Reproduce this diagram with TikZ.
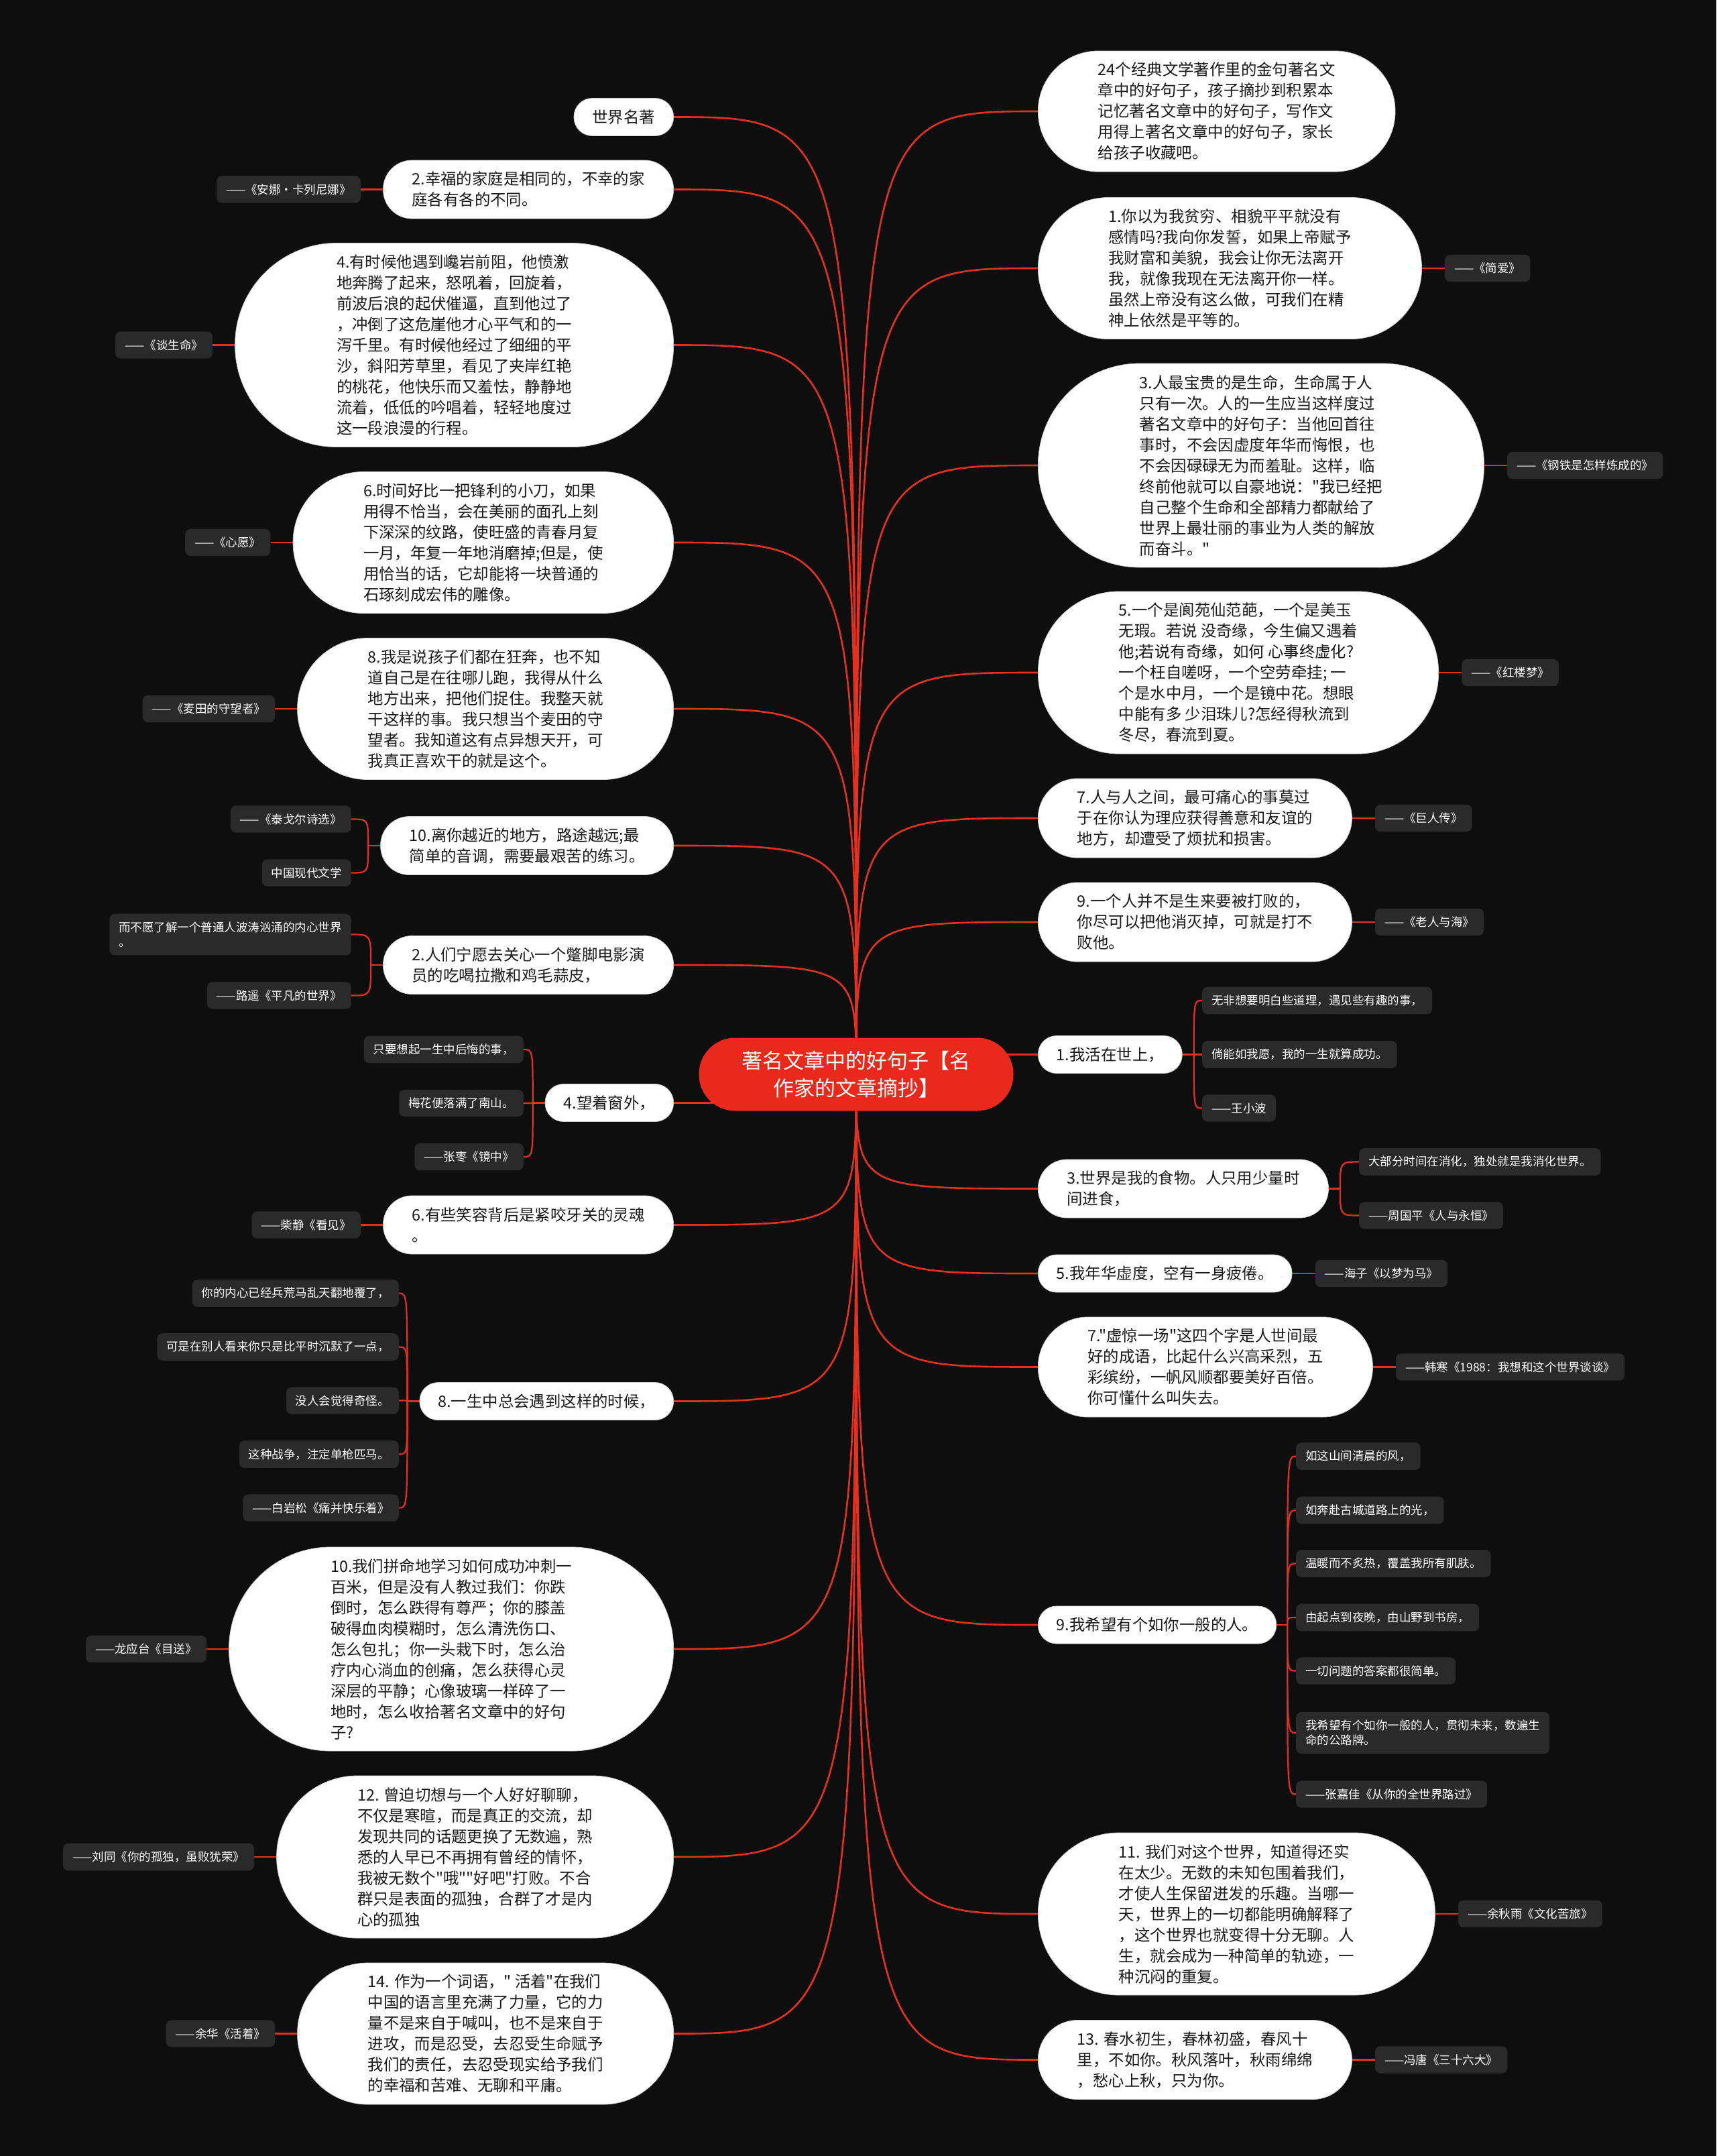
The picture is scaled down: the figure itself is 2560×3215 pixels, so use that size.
\documentclass[tikz,border=0pt]{standalone}
\usepackage{fontspec}
\setmainfont{Noto Sans CJK SC}[Ligatures=TeXOff]
\usetikzlibrary{positioning}
\definecolor{bgc}{HTML}{0E0E0E}
\definecolor{linered}{HTML}{E2321F}
\definecolor{rootred}{HTML}{E8291B}
\definecolor{leafgray}{HTML}{2A2A2A}
\definecolor{pilltext}{HTML}{1A1A1A}
\pgfdeclarelayer{bg}
\pgfdeclarelayer{lines}
\pgfsetlayers{bg,lines,main}
\begin{document}
\begin{tikzpicture}[x=1pt,y=-1pt,
  pill/.style={rectangle, rounded corners=#1pt, minimum height=2*#1pt+1pt,
    fill=white, draw=black!20, line width=0.8pt,
    inner xsep=#1pt, inner ysep=4pt, align=left, text=pilltext,
    font=\fontsize{23.4}{31}\selectfont},
  leaf/.style={rectangle, rounded corners=8pt, fill=leafgray, text=white,
    inner xsep=14pt, inner ysep=12pt, align=left,
    font=\fontsize{17.5}{22}\selectfont},
  root/.style={rectangle, rounded corners=54pt, minimum height=109pt,
    fill=rootred, text=white, inner xsep=64pt,
    inner ysep=4pt, align=center, font=\fontsize{31}{41}\selectfont},
  conn/.style={draw=linered, line width=2.6pt},
  sub/.style={draw=linered, line width=2.2pt}]
\useasboundingbox (0,0) rectangle (2560,3215);
\begin{pgfonlayer}{bg}
\fill[bgc] (0,0) rectangle (2560,3215);
\end{pgfonlayer}

% root
\node[root] (C) at (1277,1602) {著名文章中的好句子【名\\作家的文章摘抄】};

% ---------- left side ----------
\node[pill=27.5,anchor=east] (L0) at (1005,174.5) {世界名著};

\node[pill=43,anchor=east] (L1) at (1005,282.5) {2.幸福的家庭是相同的，不幸的家\\庭各有各的不同。};
\node[leaf,left=33pt of L1] (L1-a) {——《安娜·卡列尼娜》};

\node[pill=151.5,anchor=east] (L2) at (1005,514.5) {4.有时候他遇到巉岩前阻，他愤激\\地奔腾了起来，怒吼着，回旋着，\\前波后浪的起伏催逼，直到他过了\\，冲倒了这危崖他才心平气和的一\\泻千里。有时候他经过了细细的平\\沙，斜阳芳草里，看见了夹岸红艳\\的桃花，他快乐而又羞怯，静静地\\流着，低低的吟唱着，轻轻地度过\\这一段浪漫的行程。};
\node[leaf,left=33pt of L2] (L2-a) {——《谈生命》};

\node[pill=105,anchor=east] (L3) at (1005,809) {6.时间好比一把锋利的小刀，如果\\用得不恰当，会在美丽的面孔上刻\\下深深的纹路，使旺盛的青春月复\\一月，年复一年地消磨掉;但是，使\\用恰当的话，它却能将一块普通的\\石琢刻成宏伟的雕像。};
\node[leaf,left=33pt of L3] (L3-a) {——《心愿》};

\node[pill=105,anchor=east] (L4) at (1005,1057) {8.我是说孩子们都在狂奔，也不知\\道自己是在往哪儿跑，我得从什么\\地方出来，把他们捉住。我整天就\\干这样的事。我只想当个麦田的守\\望者。我知道这有点异想天开，可\\我真正喜欢干的就是这个。};
\node[leaf,left=33pt of L4] (L4-a) {——《麦田的守望者》};

\node[pill=43,anchor=east] (L5) at (1005,1261) {10.离你越近的地方，路途越远;最\\简单的音调，需要最艰苦的练习。};
\node[leaf,anchor=east] (L5-a) at (524,1221.5) {——《泰戈尔诗选》};
\node[leaf,anchor=east] (L5-b) at (524,1301.5) {中国现代文学};
\coordinate (L5j) at ([xshift=-18pt]L5.west);

\node[pill=43,anchor=east] (L6) at (1005,1439) {2.人们宁愿去关心一个蹩脚电影演\\员的吃喝拉撒和鸡毛蒜皮，};
\node[leaf,anchor=east] (L6-a) at (524,1393.5) {而不愿了解一个普通人波涛汹涌的内心世界\\。};
\node[leaf,anchor=east] (L6-b) at (524,1484.5) {——路遥《平凡的世界》};
\coordinate (L6j) at ([xshift=-18pt]L6.west);

\node[pill=27.5,anchor=east] (L7) at (1005,1644.5) {4.望着窗外，};
\node[leaf,anchor=east] (L7-a) at (781,1565) {只要想起一生中后悔的事，};
\node[leaf,anchor=east] (L7-b) at (781,1645) {梅花便落满了南山。};
\node[leaf,anchor=east] (L7-c) at (781,1725) {——张枣《镜中》};
\coordinate (L7j) at ([xshift=-18pt]L7.west);

\node[pill=43,anchor=east] (L8) at (1005,1826.5) {6.有些笑容背后是紧咬牙关的灵魂\\。};
\node[leaf,left=33pt of L8] (L8-a) {——柴静《看见》};

\node[pill=27.5,anchor=east] (L9) at (1005,2089.5) {8.一生中总会遇到这样的时候，};
\node[leaf,anchor=east] (L9-a) at (595,1928.5) {你的内心已经兵荒马乱天翻地覆了，};
\node[leaf,anchor=east] (L9-b) at (595,2008.5) {可是在别人看来你只是比平时沉默了一点，};
\node[leaf,anchor=east] (L9-c) at (595,2088.5) {没人会觉得奇怪。};
\node[leaf,anchor=east] (L9-d) at (595,2168.5) {这种战争，注定单枪匹马。};
\node[leaf,anchor=east] (L9-e) at (595,2248.5) {——白岩松《痛并快乐着》};
\coordinate (L9j) at ([xshift=-18pt]L9.west);

\node[pill=151.5,anchor=east] (L10) at (1005,2459) {10.我们拼命地学习如何成功冲刺一\\百米，但是没有人教过我们：你跌\\倒时，怎么跌得有尊严；你的膝盖\\破得血肉模糊时，怎么清洗伤口、\\怎么包扎；你一头栽下时，怎么治\\疗内心淌血的创痛，怎么获得心灵\\深层的平静；心像玻璃一样碎了一\\地时，怎么收拾著名文章中的好句\\子?};
\node[leaf,left=33pt of L10] (L10-a) {——龙应台《目送》};

\node[pill=120.5,anchor=east] (L11) at (1005,2769) {12. 曾迫切想与一个人好好聊聊，\\不仅是寒暄，而是真正的交流，却\\发现共同的话题更换了无数遍，熟\\悉的人早已不再拥有曾经的情怀，\\我被无数个"哦""好吧"打败。不合\\群只是表面的孤独，合群了才是内\\心的孤独};
\node[leaf,left=33pt of L11] (L11-a) {——刘同《你的孤独，虽败犹荣》};

\node[pill=105,anchor=east] (L12) at (1005,3032.5) {14. 作为一个词语，" 活着"在我们\\中国的语言里充满了力量，它的力\\量不是来自于喊叫，也不是来自于\\进攻，而是忍受，去忍受生命赋予\\我们的责任，去忍受现实给予我们\\的幸福和苦难、无聊和平庸。};
\node[leaf,left=33pt of L12] (L12-a) {——余华《活着》};

% ---------- right side ----------
\node[pill=89.5,anchor=west] (R0) at (1548,166) {24个经典文学著作里的金句著名文\\章中的好句子，孩子摘抄到积累本\\记忆著名文章中的好句子，写作文\\用得上著名文章中的好句子，家长\\给孩子收藏吧。};

\node[pill=105,anchor=west] (R1) at (1548,400) {1.你以为我贫穷、相貌平平就没有\\感情吗?我向你发誓，如果上帝赋予\\我财富和美貌，我会让你无法离开\\我，就像我现在无法离开你一样。\\虽然上帝没有这么做，可我们在精\\神上依然是平等的。};
\node[leaf,right=34pt of R1] (R1-a) {——《简爱》};

\node[pill=151.5,anchor=west] (R2) at (1548,694) {3.人最宝贵的是生命，生命属于人\\只有一次。人的一生应当这样度过\\著名文章中的好句子：当他回首往\\事时，不会因虚度年华而悔恨，也\\不会因碌碌无为而羞耻。这样，临\\终前他就可以自豪地说："我已经把\\自己整个生命和全部精力都献给了\\世界上最壮丽的事业为人类的解放\\而奋斗。"};
\node[leaf,right=34pt of R2] (R2-a) {——《钢铁是怎样炼成的》};

\node[pill=120.5,anchor=west] (R3) at (1548,1003) {5.一个是阆苑仙范葩，一个是美玉\\无瑕。若说 没奇缘，今生偏又遇着\\他;若说有奇缘，如何 心事终虚化?\\一个枉自嗟呀，一个空劳牵挂; 一\\个是水中月，一个是镜中花。想眼\\中能有多 少泪珠儿?怎经得秋流到\\冬尽，春流到夏。};
\node[leaf,right=34pt of R3] (R3-a) {——《红楼梦》};

\node[pill=58.5,anchor=west] (R4) at (1548,1220) {7.人与人之间，最可痛心的事莫过\\于在你认为理应获得善意和友谊的\\地方，却遭受了烦扰和损害。};
\node[leaf,right=34pt of R4] (R4-a) {——《巨人传》};

\node[pill=58.5,anchor=west] (R5) at (1548,1375) {9.一个人并不是生来要被打败的，\\你尽可以把他消灭掉，可就是打不\\败他。};
\node[leaf,right=34pt of R5] (R5-a) {——《老人与海》};

\node[pill=27.5,anchor=west] (R6) at (1548,1572.5) {1.我活在世上，};
\node[leaf,anchor=west] (R6-a) at (1793,1492) {无非想要明白些道理，遇见些有趣的事，};
\node[leaf,anchor=west] (R6-b) at (1793,1572.5) {倘能如我愿，我的一生就算成功。};
\node[leaf,anchor=west] (R6-c) at (1793,1652.5) {——王小波};
\coordinate (R6j) at ([xshift=17pt]R6.east);

\node[pill=43,anchor=west] (R7) at (1548,1772.5) {3.世界是我的食物。人只用少量时\\间进食，};
\node[leaf,anchor=west] (R7-a) at (2027,1732.5) {大部分时间在消化，独处就是我消化世界。};
\node[leaf,anchor=west] (R7-b) at (2027,1812.5) {——周国平《人与永恒》};
\coordinate (R7j) at ([xshift=17pt]R7.east);

\node[pill=27.5,anchor=west] (R8) at (1548,1899) {5.我年华虚度，空有一身疲倦。};
\node[leaf,right=34pt of R8] (R8-a) {——海子《以梦为马》};

\node[pill=74,anchor=west] (R9) at (1548,2038.5) {7."虚惊一场"这四个字是人世间最\\好的成语，比起什么兴高采烈，五\\彩缤纷，一帆风顺都要美好百倍。\\你可懂什么叫失去。};
\node[leaf,right=34pt of R9] (R9-a) {——韩寒《1988：我想和这个世界谈谈》};

\node[pill=27.5,anchor=west] (R10) at (1548,2423) {9.我希望有个如你一般的人。};
\node[leaf,anchor=west] (R10-a) at (1933,2171.5) {如这山间清晨的风，};
\node[leaf,anchor=west] (R10-b) at (1933,2252) {如奔赴古城道路上的光，};
\node[leaf,anchor=west] (R10-c) at (1933,2331.5) {温暖而不炙热，覆盖我所有肌肤。};
\node[leaf,anchor=west] (R10-d) at (1933,2412) {由起点到夜晚，由山野到书房，};
\node[leaf,anchor=west] (R10-e) at (1933,2491.5) {一切问题的答案都很简单。};
\node[leaf,anchor=west] (R10-f) at (1933,2584) {我希望有个如你一般的人，贯彻未来，数遍生\\命的公路牌。};
\node[leaf,anchor=west] (R10-g) at (1933,2675.5) {——张嘉佳《从你的全世界路过》};
\coordinate (R10j) at ([xshift=16pt]R10.east);

\node[pill=120.5,anchor=west] (R11) at (1548,2854) {11. 我们对这个世界，知道得还实\\在太少。无数的未知包围着我们，\\才使人生保留迸发的乐趣。当哪一\\天，世界上的一切都能明确解释了\\，这个世界也就变得十分无聊。人\\生，就会成为一种简单的轨迹，一\\种沉闷的重复。};
\node[leaf,right=34pt of R11] (R11-a) {——余秋雨《文化苦旅》};

\node[pill=58.5,anchor=west] (R12) at (1548,3071.5) {13. 春水初生，春林初盛，春风十\\里，不如你。秋风落叶，秋雨绵绵\\，愁心上秋，只为你。};
\node[leaf,right=34pt of R12] (R12-a) {——冯唐《三十六大》};

% ---------- connectors ----------
\begin{pgfonlayer}{lines}
\foreach \n in {L0,L1,L2,L3,L4,L5,L6,L7,L8,L9,L10,L11,L12}
  \draw[conn] (C.center) .. controls (C.center |- \n.east) .. (\n.east);
\foreach \n in {R0,R1,R2,R3,R4,R5,R6,R7,R8,R9,R10,R11,R12}
  \draw[conn] (C.center) .. controls (C.center |- \n.west) .. (\n.west);
% single leaves
\foreach \n in {L1,L2,L3,L4,L8,L10,L11,L12}
  \draw[sub] (\n.west) -- (\n-a.east);
\foreach \n in {R1,R2,R3,R4,R5,R8,R9,R11,R12}
  \draw[sub] (\n.east) -- (\n-a.west);
% brackets
\draw[sub] (L5.west) -- (L5j);
\foreach \l in {a,b} \draw[sub] (L5j) .. controls (L5j |- L5-\l.east) .. (L5-\l.east);
\draw[sub] (L6.west) -- (L6j);
\foreach \l in {a,b} \draw[sub] (L6j) .. controls (L6j |- L6-\l.east) .. (L6-\l.east);
\draw[sub] (L7.west) -- (L7j);
\foreach \l in {a,b,c} \draw[sub] (L7j) .. controls (L7j |- L7-\l.east) .. (L7-\l.east);
\draw[sub] (L9.west) -- (L9j);
\foreach \l in {a,b,c,d,e} \draw[sub] (L9j) .. controls (L9j |- L9-\l.east) .. (L9-\l.east);
\draw[sub] (R6.east) -- (R6j);
\foreach \l in {a,b,c} \draw[sub] (R6j) .. controls (R6j |- R6-\l.west) .. (R6-\l.west);
\draw[sub] (R7.east) -- (R7j);
\foreach \l in {a,b} \draw[sub] (R7j) .. controls (R7j |- R7-\l.west) .. (R7-\l.west);
\draw[sub] (R10.east) -- (R10j);
\foreach \l in {a,b,c,d,e,f,g} \draw[sub] (R10j) .. controls (R10j |- R10-\l.west) .. (R10-\l.west);
\end{pgfonlayer}
\end{tikzpicture}
\end{document}
